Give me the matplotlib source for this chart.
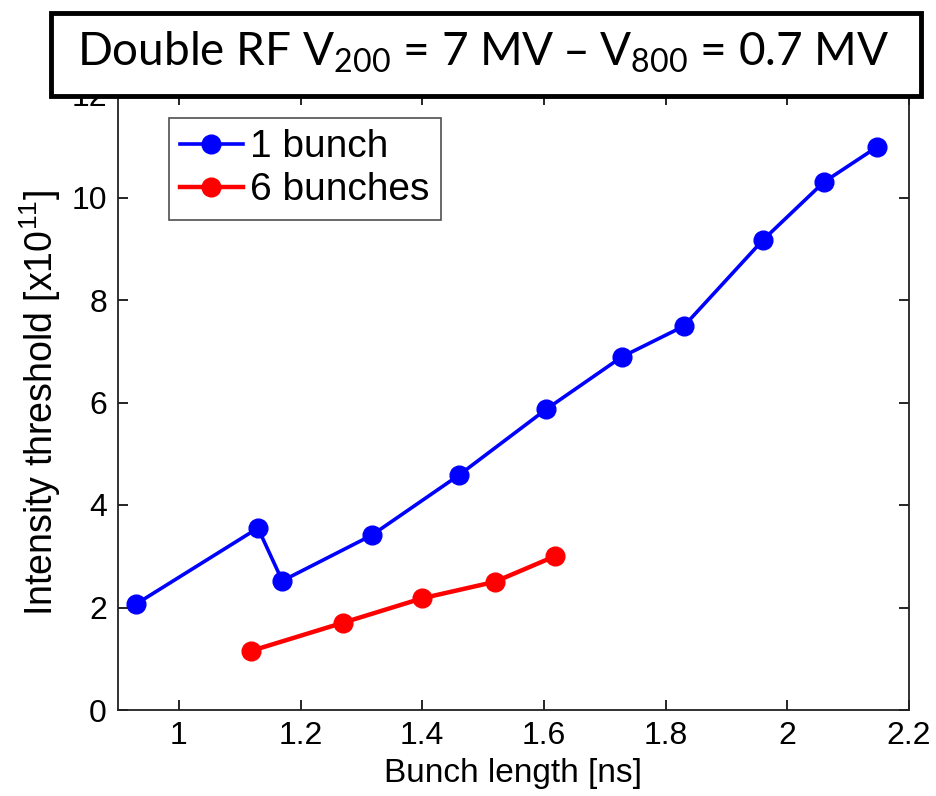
import matplotlib
matplotlib.use("Agg")
import matplotlib.pyplot as plt
from matplotlib.patches import Rectangle
from matplotlib import font_manager

# Data
x_one = [0.93, 1.13, 1.17, 1.317, 1.46, 1.604, 1.728, 1.83, 1.96, 2.06, 2.148]
y_one = [2.07, 3.55, 2.52, 3.41, 4.58, 5.87, 6.89, 7.49, 9.17, 10.30, 10.99]
x_six = [1.118, 1.269, 1.40, 1.519, 1.618]
y_six = [1.15, 1.70, 2.18, 2.50, 3.00]
xticks = [1, 1.2, 1.4, 1.6, 1.8, 2, 2.2]
xticklabels = ["1", "1.2", "1.4", "1.6", "1.8", "2", "2.2"]
yticks = [0, 2, 4, 6, 8, 10, 12]
yticklabels = ["0", "2", "4", "6", "8", "10", "12"]

names = {f.name for f in font_manager.fontManager.ttflist}
narrow = 'Liberation Sans Narrow' in names
main_font = 'Liberation Sans Narrow' if narrow else 'Liberation Sans'
plt.rcParams['font.family'] = [main_font, 'DejaVu Sans']
plt.rcParams['mathtext.default'] = 'regular'

W, H = 936, 796
fig = plt.figure(figsize=(W / 100, H / 100), dpi=100)
ax = fig.add_axes([118 / W, 1 - 710 / H, (909 - 118) / W, (710 - 95) / H])

ax.plot(x_one, y_one, '-o', color='#0000ff', lw=2.6, ms=13.5, label='1 bunch')
ax.plot(x_six, y_six, '-o', color='#ff0000', lw=3.2, ms=13.5, label='6 bunches')

ax.set_xlim(0.9, 2.2)
ax.set_ylim(0, 12)
ax.set_xticks(xticks)
ax.set_xticklabels(xticklabels)
ax.set_yticks(yticks)
ax.set_yticklabels(yticklabels)
tsz = 26 if narrow else 23
ax.tick_params(direction='in', length=7, width=1.2, labelsize=tsz, top=True, right=True, pad=8)
for s in ax.spines.values():
    s.set_linewidth(1.3)
    s.set_color('#222222')

lsz = 27 if narrow else 24
ax.set_xlabel('Bunch length [ns]', fontsize=lsz, labelpad=5)
ax.set_ylabel(r'Intensity threshold [x10$^{11}$]', fontsize=27,
              family=['Liberation Sans', 'DejaVu Sans'], labelpad=6)

gsz = 33 if narrow else 28
leg = ax.legend(loc='upper left', bbox_to_anchor=(0.064, 0.963), fontsize=gsz,
                handlelength=1.6, frameon=True, fancybox=False, borderpad=0.3,
                labelspacing=0.18, handletextpad=0.2, borderaxespad=0)
leg.get_frame().set_edgecolor('#222222')
leg.get_frame().set_linewidth(1.2)

# Title box
rect = Rectangle((51 / W, 1 - 96 / H), (921 - 51) / W, (96 - 13) / H,
                 transform=fig.transFigure, facecolor='white', edgecolor='black',
                 linewidth=3.5, zorder=5)
fig.add_artist(rect)
fig.text(483 / W, 1 - 52 / H, r'Double RF V$_{200}$ = 7 MV – V$_{800}$ = 0.7 MV',
         fontsize=33, family=['Lato', 'DejaVu Sans'], ha='center', va='center', zorder=6)

fig.savefig('out.png', dpi=100)
